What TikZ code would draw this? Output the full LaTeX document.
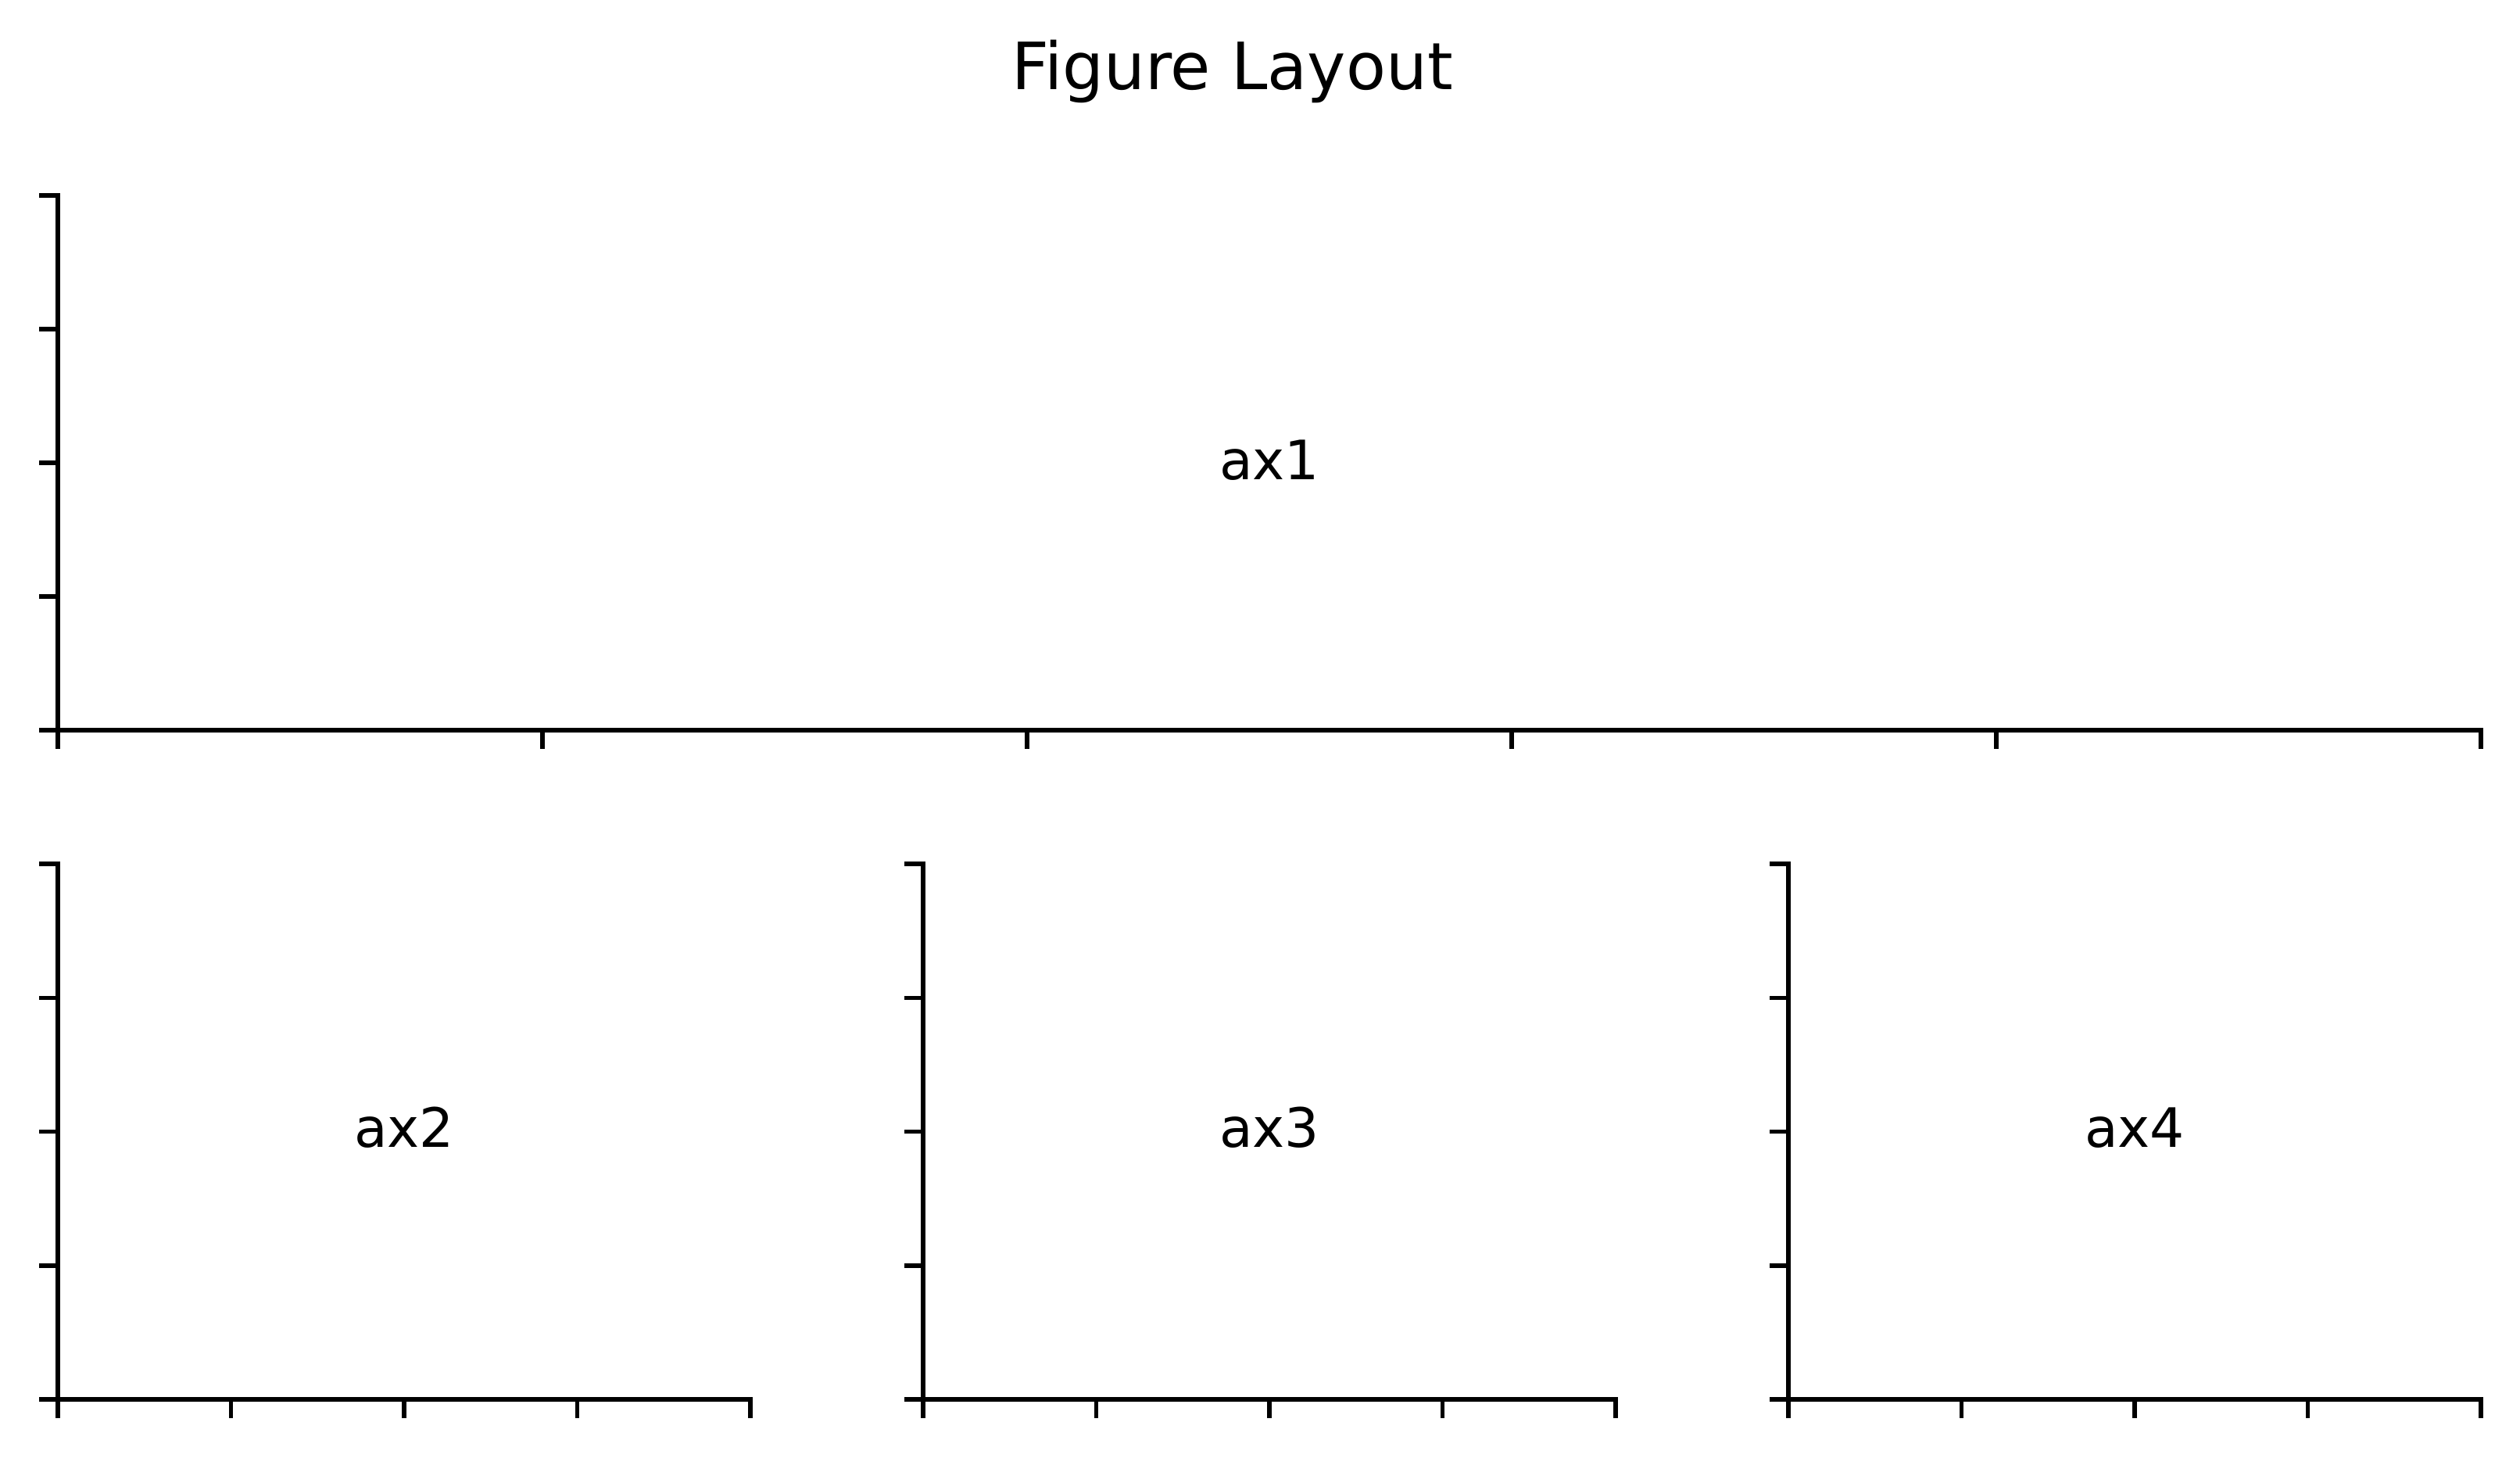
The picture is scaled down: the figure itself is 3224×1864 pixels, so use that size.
\documentclass[tikz,border=0pt]{standalone}
\usepackage{fontspec}
\setmainfont{DejaVu Sans}
\begin{document}
\begin{tikzpicture}[x=0.144pt,y=-0.144pt,
  spine/.style={line width=0.8pt,line cap=rect,black},
  tickline/.style={line width=0.8pt,black},
  lbl/.style={anchor=base,inner sep=0pt,font=\fontsize{10pt}{12pt}\selectfont},
  ttl/.style={anchor=base,inner sep=0pt,font=\fontsize{12pt}{14.4pt}\selectfont}]
\useasboundingbox (0,0) rectangle (3224,1864);
\fill[white] (0,0) rectangle (3224,1864);
% title
\node[ttl] (title) at (1576.5,114) {Figure Layout};
% ax1
\coordinate (a1tl) at (74,250);
\coordinate (a1bl) at (74,934);
\coordinate (a1br) at (3174,934);
\draw[spine] (a1tl) -- (a1bl) -- (a1br);
\foreach \i in {0,...,4} \draw[tickline] (74,{250+171*\i}) -- ++(-24.3,0);
\foreach \i in {0,...,5} \draw[tickline] ({74+620*\i},934) -- ++(0,24.3);
\node[lbl] (ax1) at (1624,613) {ax1};
% bottom row
\foreach \xl/\nm in {74/ax2,1181/ax3,2288/ax4}{
  \draw[spine] (\xl,1105) -- (\xl,1790) -- ({\xl+886},1790);
  \foreach \i in {0,...,4} \draw[tickline] (\xl,{1105+171.25*\i}) -- ++(-24.3,0);
  \foreach \i in {0,...,4} \draw[tickline] ({\xl+221.5*\i},1790) -- ++(0,24.3);
  \node[lbl] (\nm) at ({\xl+443},1467) {\nm};
}
\end{tikzpicture}
\end{document}
